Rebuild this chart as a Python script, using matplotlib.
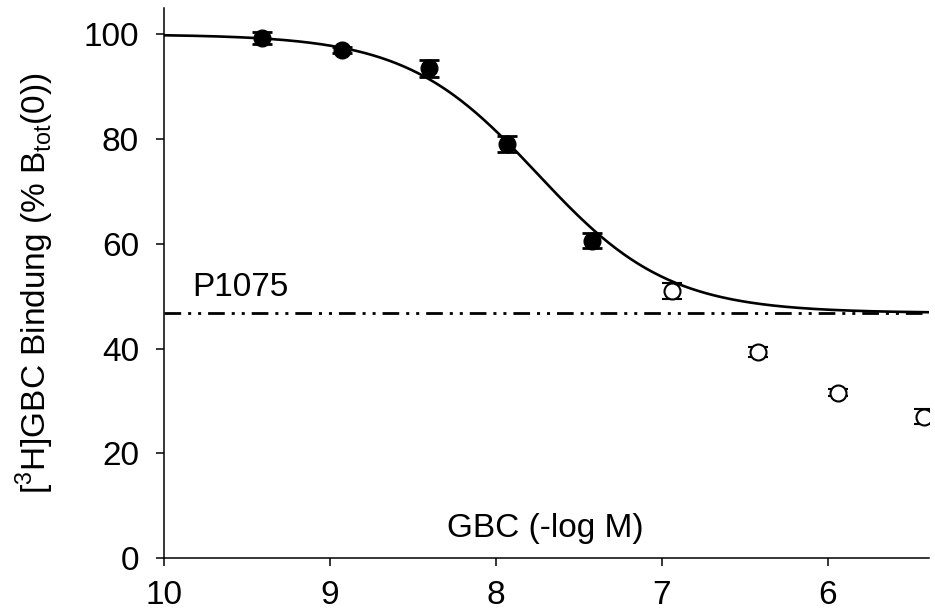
import numpy as np
import matplotlib
matplotlib.use("Agg")
import matplotlib.pyplot as plt

plt.rcParams["font.family"] = ["Liberation Sans", "DejaVu Sans"]

# GBC concentration (-log M) and binding (% of total)
x_filled = [9.41, 8.93, 8.40, 7.93, 7.42]
y_filled = [99.3, 97.0, 93.5, 79.0, 60.6]
err_filled = [1.2, 0.6, 1.6, 1.5, 1.4]

x_open = [6.94, 6.42, 5.94, 5.42]
y_open = [51.0, 39.3, 31.6, 27.0]
err_open = [1.6, 1.0, 0.7, 1.4]

# fitted sigmoid
fit_top = 100.0
fit_bottom = 46.8
fit_pic50 = 7.75
fit_hill = 1.1

xlim = (10, 5.39)
ylim = (0, 105)
xticks = [10, 9, 8, 7, 6]
yticks = [0, 20, 40, 60, 80, 100]

fig = plt.figure(figsize=(9.35, 6.13), dpi=100)
ax = fig.add_axes([0.1754, 0.0897, 0.818, 0.897])

xc = np.linspace(xlim[0], xlim[1], 400)
yc = fit_bottom + (fit_top - fit_bottom) / (1 + 10 ** (fit_hill * (fit_pic50 - xc)))
ax.plot(xc, yc, color="black", lw=1.9, zorder=3)

ax.axhline(fit_bottom, color="black", lw=2, dashes=[6, 2.5, 1.1, 2.5, 1.1, 2.5], zorder=2)

ax.errorbar(x_filled, y_filled, yerr=err_filled, fmt="o", color="black", ms=12,
            capsize=7, capthick=2, elinewidth=2, zorder=4)
ax.errorbar(x_open, y_open, yerr=err_open, fmt="o", color="black", mfc="white",
            mec="black", mew=1.5, ms=11.5, capsize=7, capthick=2, elinewidth=2, zorder=4)

ax.text(9.83, 51.6, "P1075", fontsize=24, ha="left", va="center")
ax.text(7.7, 5.7, "GBC (-log M)", fontsize=24, ha="center", va="center")

ax.set_xlim(*xlim)
ax.set_ylim(*ylim)
ax.set_xticks(xticks)
ax.set_yticks(yticks)
ax.tick_params(direction="out", length=6, width=1.1, labelsize=24)
ax.tick_params(axis="x", pad=10)
ax.tick_params(axis="y", pad=12)
ax.spines["top"].set_visible(False)
ax.spines["right"].set_visible(False)
ax.spines["left"].set_linewidth(1.1)
ax.spines["bottom"].set_linewidth(1.1)
ax.set_ylabel(r"[$^{\mathregular{3}}$H]GBC Bindung (% B$_{\mathregular{tot}}$(0))", fontsize=24, labelpad=20)

fig.savefig("out.png", dpi=100)
plt.close(fig)
